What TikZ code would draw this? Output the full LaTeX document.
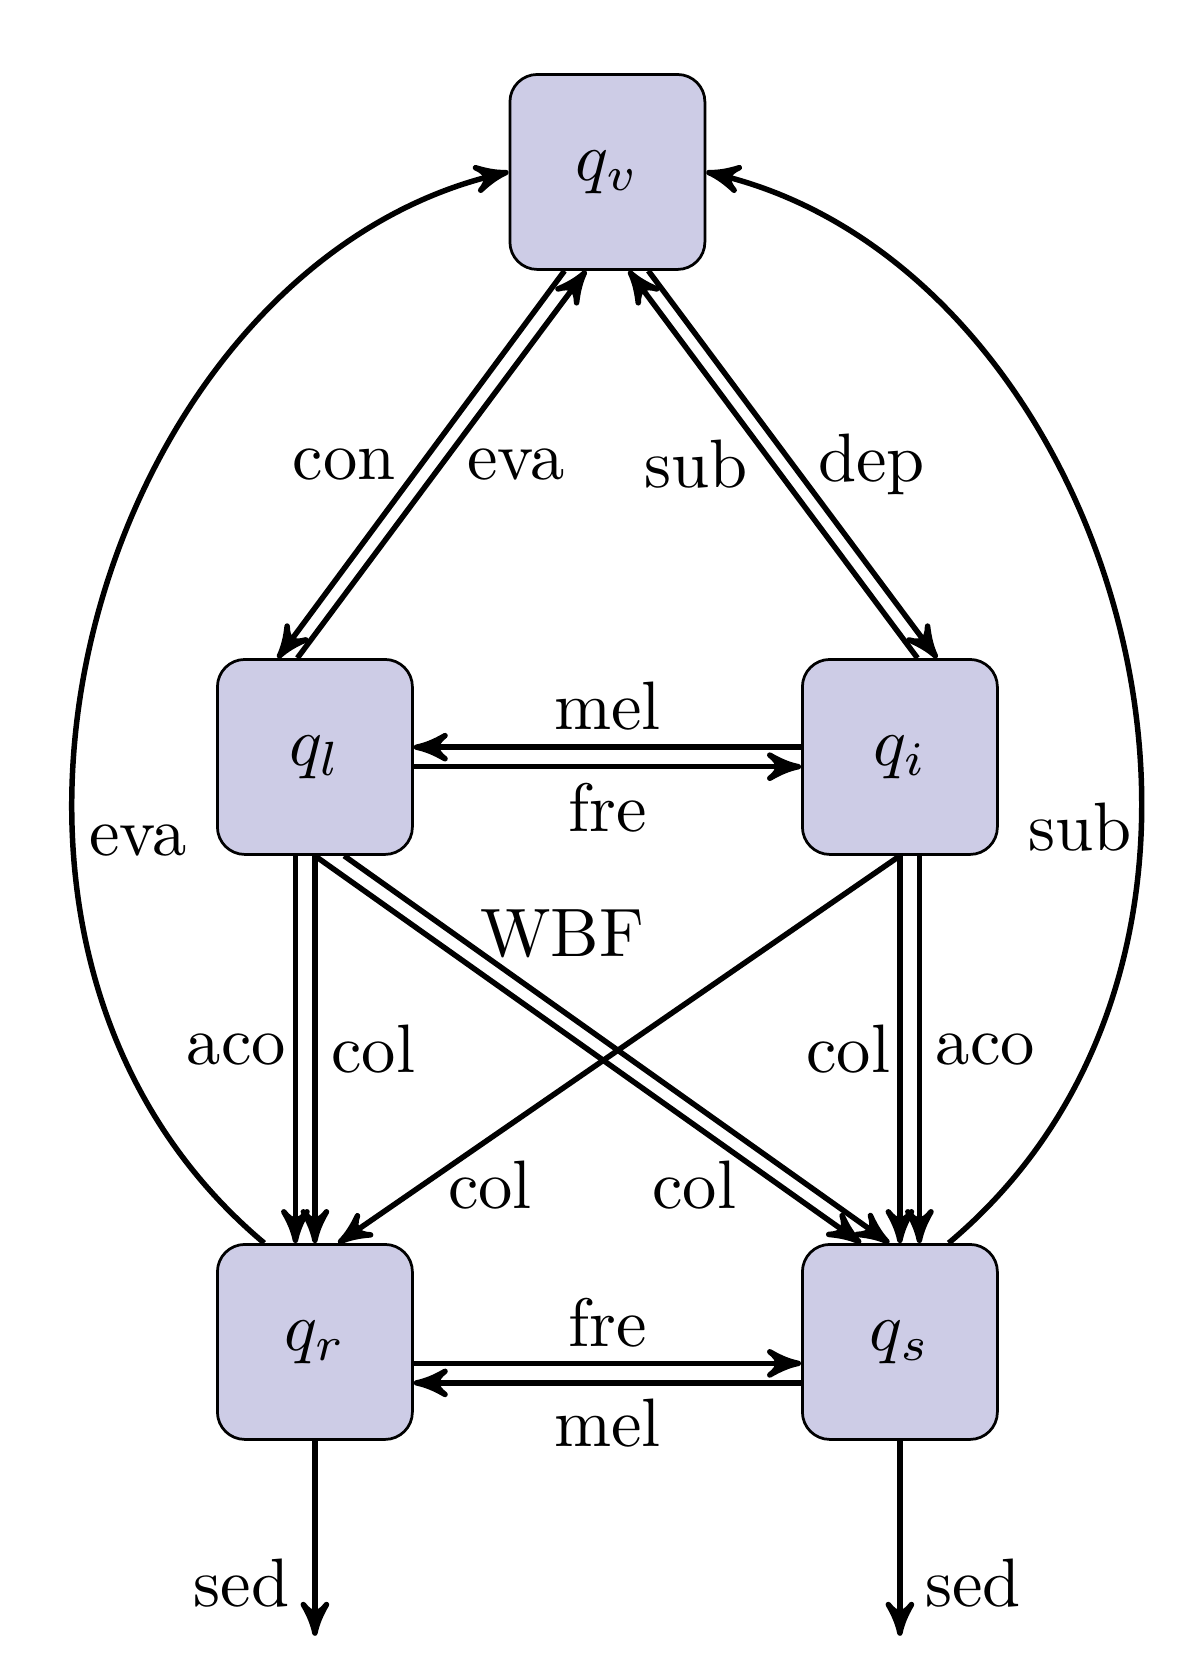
\documentclass[tikz,border=0pt]{standalone}
\usepackage{amssymb,amsmath}
\usepackage{tikz}
\usetikzlibrary{shapes,arrows}
\usetikzlibrary{calc}
\usetikzlibrary{positioning}
\definecolor{boxfill}{RGB}{205,204,230}

\begin{document}
\begin{tikzpicture}[box_node/.style={rectangle,rounded corners,fill=boxfill,draw,minimum size=1cm,inner sep=1pt}, flow/.style={->,>=stealth',thick}, tight_label/.style={inner sep=2pt}]
	\useasboundingbox (-1.615,-4.703) rectangle (4.538,3.882);
				\node[box_node](qv) at (1.5,3){$q_v$};
				\node[box_node](ql) at (0,0){$q_l$};
				\node[box_node](qi) at (3,0){$q_i$};
				\node[box_node](qr) at (0,-3){$q_r$};
				\node[box_node](qs) at (3,-3){$q_s$};
				\coordinate[below=1cm of qr] (sedr);
				\coordinate[below=1cm of qs] (seds);
				\path[flow]
				% top triangle
				([xshift=-0.22cm]qv.south) edge node[left] {con} ([xshift=-0.19cm]ql.north)
				([xshift=-0.09cm]ql.north) edge node[right] {eva} ([xshift=-0.11cm]qv.south)
				([xshift=0.09cm]qi.north) edge node[left] {sub} ([xshift=0.11cm]qv.south)
				([xshift=0.21cm]qv.south) edge node[right] {dep} ([xshift=0.19cm]qi.north)
				% middle row
				([yshift=0.05cm]qi.west) edge node[above,tight_label] {mel} ([yshift=0.05cm]ql.east)
				([yshift=-0.05cm]ql.east) edge node[below,tight_label] {fre} ([yshift=-0.05cm]qi.west)
				% bottom row
				([yshift=-0.11cm]qr.east) edge node[above,tight_label] {fre} ([yshift=-0.11cm]qs.west)
				([yshift=-0.21cm]qs.west) edge node[below,tight_label] {mel} ([yshift=-0.21cm]qr.east)
				% verticals
				([xshift=-0.1cm]ql.south) edge node[left,inner sep=1pt] {aco} ([xshift=-0.1cm]qr.north)
				(ql.south) edge node[right,tight_label] {col} (qr.north)
				(qi.south) edge node[left,inner sep=1pt] {col} (qs.north)
				([xshift=0.1cm]qi.south) edge node[right,tight_label] {aco} ([xshift=0.1cm]qs.north)
				% crossing
				([xshift=0.15cm]ql.south) edge node[pos=0.4,above=4pt] {WBF} ([xshift=-0.055cm]qs.north)
				(ql.south) edge node[pos=0.85,left=2.5pt] {col} ([xshift=-0.2cm]qs.north)
				(qi.south) edge node[pos=0.85,right] {col} ([xshift=0.12cm]qr.north)
				% outer curves
				([xshift=-0.26cm]qr.north) edge[out=140,in=193,out distance=2.46cm,in distance=2.15cm] node[pos=0.34,right,tight_label] {eva} (qv.west)
				([xshift=0.25cm]qs.north) edge[out=40,in=-13,out distance=2.46cm,in distance=2.15cm] node[pos=0.35,left,inner sep=1pt] {sub} (qv.east)
				% sedimentation
				(qr.south) edge node[pos=0.73,left] {sed} (sedr)
				(qs.south) edge node[pos=0.73,right] {sed} (seds);
			\end{tikzpicture}
\end{document}
